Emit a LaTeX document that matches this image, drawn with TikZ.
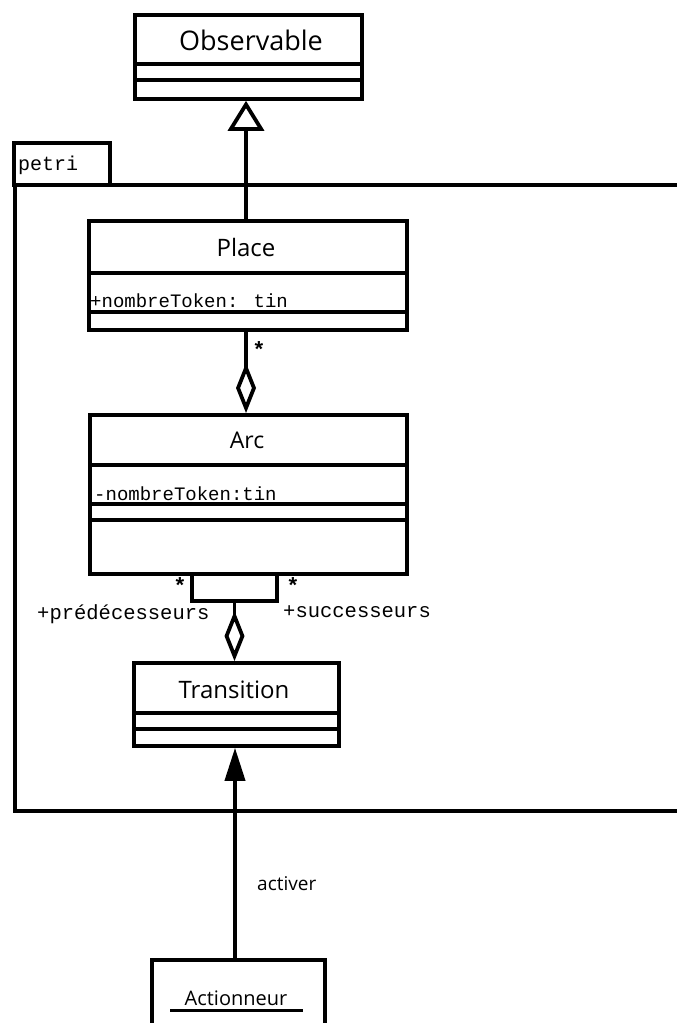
\documentclass[tikz,border=0pt]{standalone}
\usepackage{fontspec}
\setmainfont{Open Sans}
\newfontfamily\monof{Liberation Mono}
\usetikzlibrary{arrows.meta}
\begin{document}
\begin{tikzpicture}[x=1pt,y=-1pt,
  lw/.style={line width=3.8pt},
  box/.style={draw,lw,rectangle,inner sep=0pt,anchor=north west},
  cname/.style={font=\fontsize{24}{26}\selectfont,inner sep=0pt},
  attr/.style={font=\monof\fontsize{19}{22}\selectfont,inner sep=0pt,anchor=base west},
  role/.style={font=\monof\fontsize{20.5}{22}\selectfont,inner sep=0pt},
  star/.style={font=\monof\bfseries\fontsize{22}{24}\selectfont,inner sep=0pt},
  inherit/.style={lw,-{Triangle[open,length=30pt,width=36pt,line width=3.8pt]}},
  aggr/.style={lw,{Diamond[open,length=50pt,width=20pt,line width=3.8pt]}-},
  navig/.style={lw,-{Triangle[length=33pt,width=20pt]}}
]
\clip (0,0) rectangle (677,1023);
\fill[white] (0,0) rectangle (677,1023);

% package petri
\draw[lw] (14,143) rectangle (110,185);
\node[font=\monof\fontsize{20}{22}\selectfont,inner sep=0pt,anchor=base west] (pkg) at (18,170) {petri};
\draw[lw] (690,185) -- (15,185) -- (15,811) -- (690,811);

% Observable
\node[box,minimum width=227pt,minimum height=84pt] (obs) at (133,13) {};
\node[cname,font=\fontsize{27}{30}\selectfont] (obsn) at (251,40) {Observable};
\draw[lw] (133,64) -- (360,64);
\draw[lw] (133,80) -- (360,80);

% Place
\node[box,minimum width=318pt,minimum height=109pt] (place) at (87,219) {};
\node[cname] (placen) at (246,247) {Place};
\draw[lw] (87,273) -- (405,273);
\draw[lw] (87,312) -- (405,312);
\node[attr] (placea) at (90,307) {+nombreToken: tin};

% Arc
\node[box,minimum width=317pt,minimum height=159pt] (arc) at (88,413) {};
\node[cname,font=\fontsize{23}{26}\selectfont] (arcn) at (247,440) {Arc};
\draw[lw] (88,465) -- (405,465);
\draw[lw] (88,504) -- (405,504);
\draw[lw] (88,520) -- (405,520);
\node[attr] (arca) at (94,500) {-nombreToken:tin};

% Transition
\node[box,minimum width=205pt,minimum height=83pt] (trans) at (132,661) {};
\node[cname] (transn) at (234,690) {Transition};
\draw[lw] (132,713) -- (337,713);
\draw[lw] (132,729) -- (337,729);

% Actionneur
\node[box,minimum width=173pt,minimum height=90pt] (act) at (150,958) {};
\node[cname,anchor=base,font=\fontsize{20}{22}\selectfont] (actn) at (236,1005) {Actionneur};
\draw[line width=3pt] (170,1010) -- (303,1010);

% inheritance Place -> Observable
\draw[inherit] (place.north -| 246,0) -- (obs.south -| 246,0);

% aggregation Place - Arc
\draw[aggr] (arc.north -| 246,0) -- (place.south -| 246,0);
\node[star] (s1) at (259,350) {*};

% self association on Arc
\coordinate (la) at (192,572);
\coordinate (lb) at (192,601);
\coordinate (lc) at (277,601);
\coordinate (ld) at (277,572);
\coordinate (lm) at (234.5,601);
\draw[lw] (la) -- (lb) -- (lc) -- (ld);
\node[star] (s2) at (180,586) {*};
\node[star] (s3) at (293,586) {*};
\node[role,anchor=base west] (pred) at (37,619) {+prédécesseurs};
\node[role,anchor=base west] (succ) at (283,617) {+successeurs};

% aggregation Arc loop - Transition
\draw[aggr] (trans.north -| lm) -- (lm);

% navigation Actionneur -> Transition
\draw[navig] (act.north -| 235,0) -- (trans.south -| 235,0);
\node[cname,anchor=west,font=\fontsize{19}{22}\selectfont] (activ) at (257,884) {activer};
\end{tikzpicture}
\end{document}
